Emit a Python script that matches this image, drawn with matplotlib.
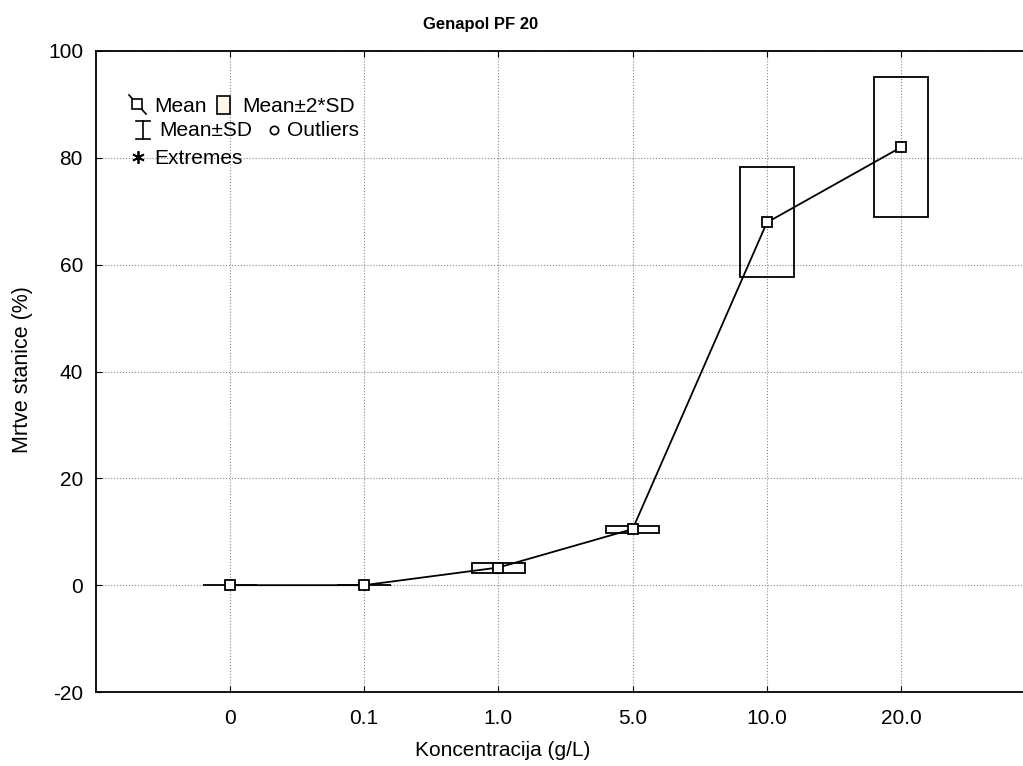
import matplotlib.pyplot as plt
from matplotlib.patches import Rectangle

plt.rcParams['font.family'] = ['Liberation Sans', 'DejaVu Sans']
plt.rcParams['axes.unicode_minus'] = False

conc = ['0', '0.1', '1.0', '5.0', '10.0', '20.0']
means = [0.0, 0.0, 3.3, 10.5, 67.9, 82.0]
box_lo = [0.0, 0.0, 2.3, 9.8, 57.6, 68.9]
box_hi = [0.0, 0.0, 4.2, 11.1, 78.2, 95.2]

fig = plt.figure(figsize=(10.23, 7.66), dpi=100)
ax = fig.add_axes([95.5 / 1023, 74 / 766, 940 / 1023, 641 / 766])

xs = list(range(len(conc)))
heights = [h - l for h, l in zip(box_hi, box_lo)]
ax.bar(xs, heights, bottom=box_lo, width=0.4, fill=False,
       edgecolor='black', linewidth=1.3, zorder=3)
ax.plot(xs, means, color='black', linewidth=1.3, marker='s', markersize=7.5,
        markerfacecolor='white', markeredgecolor='black',
        markeredgewidth=1.3, zorder=4)

ax.set_xlim(-1, 6)
ax.set_ylim(-20, 100)
ax.set_xticks(xs)
ax.set_xticklabels(conc)
ax.set_yticks(range(-20, 101, 20))
ax.tick_params(direction='in', length=4, top=True, bottom=True,
               left=True, right=False, labelsize=15, pad=9, color='black')
ax.tick_params(axis='x', pad=12)
ax.grid(True, linestyle=':', color='#888888', linewidth=0.8)
ax.set_axisbelow(True)
ax.spines['right'].set_visible(False)
for s in ['left', 'top', 'bottom']:
    ax.spines[s].set_linewidth(1.3)

fig.text(481 / 1023, 1 - 25 / 766, 'Genapol PF 20', ha='center', va='center',
         fontsize=12, fontweight='bold')
fig.text(503 / 1023, 1 - 750 / 766, 'Koncentracija (g/L)', ha='center',
         va='center', fontsize=15)
fig.text(23 / 1023, 1 - 370 / 766, 'Mrtve stanice (%)', ha='center',
         va='center', fontsize=15.5, rotation=90)


# manual legend, placed in pixel coords
def px(x, y):
    return ((x - 95.5) / 940, (692 - y) / 641)


tr = ax.transAxes
ax.plot(*zip(px(129, 95), px(146, 114)), transform=tr, color='black', lw=1.2,
        zorder=5)
ax.plot(*px(137, 104), transform=tr, marker='s', markersize=7.5,
        markerfacecolor='white', markeredgecolor='black', mew=1.2, zorder=6)
ax.text(*px(154, 106), 'Mean', transform=tr, fontsize=15, va='center')
ax.add_patch(Rectangle(px(217, 114), 13 / 940, 18 / 641, transform=tr,
                       facecolor='#FFF8EA', edgecolor='black', lw=1.2))
ax.text(*px(242, 106), 'Mean±2*SD', transform=tr, fontsize=15, va='center')
ax.plot(*zip(px(143, 121), px(143, 139)), transform=tr, color='black', lw=1.2)
ax.plot(*zip(px(136, 121), px(150, 121)), transform=tr, color='black', lw=1.2)
ax.plot(*zip(px(136, 139), px(150, 139)), transform=tr, color='black', lw=1.2)
ax.text(*px(159, 131), 'Mean±SD', transform=tr, fontsize=15, va='center')
ax.plot(*px(274, 130), transform=tr, marker='o', markersize=6,
        markerfacecolor='white', markeredgecolor='black', mew=1.2)
ax.text(*px(287, 131), 'Outliers', transform=tr, fontsize=15, va='center')
ax.plot(*px(138, 157), transform=tr, marker=(6, 2, 0), markersize=9,
        color='black', mew=1.3)
ax.text(*px(154, 158), 'Extremes', transform=tr, fontsize=15, va='center')

fig.savefig('out.png', dpi=100)
